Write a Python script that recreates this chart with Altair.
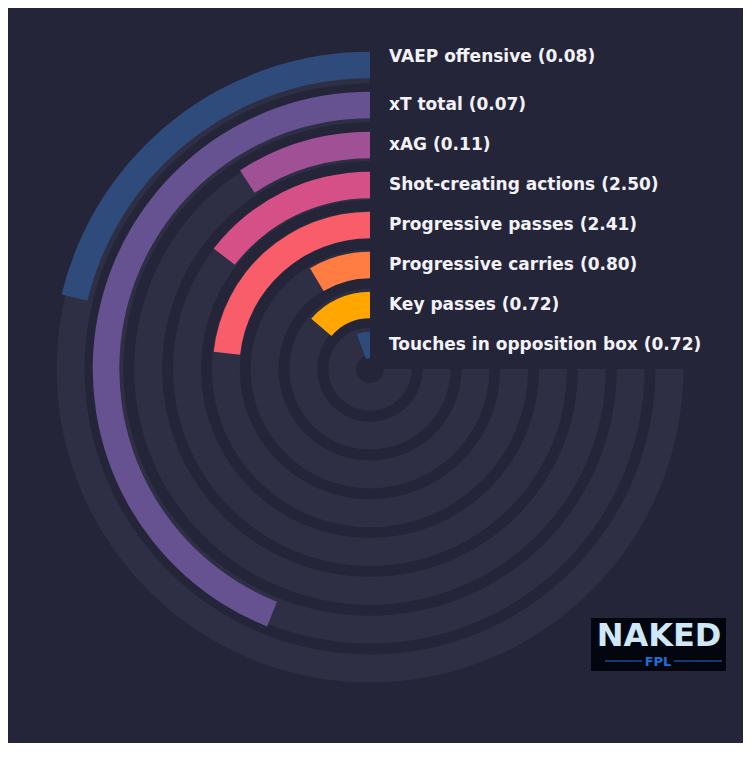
import altair as alt
import pandas as pd
import math

# ---- data ----
metrics = [
    "VAEP offensive",
    "xT total",
    "xAG",
    "Shot-creating actions",
    "Progressive passes",
    "Progressive carries",
    "Key passes",
    "Touches in opposition box",
]
values = [0.08, 0.07, 0.11, 2.50, 2.41, 0.80, 0.72, 0.72]
# share of the full 270-degree sweep (percentile-like), read from the arc ends
percentiles = [28.3, 58.6, 12.3, 19.4, 31.0, 11.4, 18.3, 7.7]
colors = ["#2f4b7c", "#665191", "#a05195", "#d45087",
          "#f95d6a", "#ff7c43", "#ffa600", "#2f4b7c"]

BG = "#25253a"
TRACK = "#2e2e44"
CX, CY = 362, 361

df = pd.DataFrame({
    "metric": metrics,
    "value": values,
    "pct": percentiles,
    "ring": list(range(len(metrics))),
})
df["label"] = [f"{m} ({v:.2f})" for m, v in zip(metrics, values)]

theta_scale = alt.Scale(domain=[0, 100], range=[2 * math.pi, math.pi / 2])
bar_r = alt.Scale(type="linear", domain=[0, 8], range=[-2.7, 317.3])
track_r = alt.Scale(type="linear", domain=[0, 8], range=[3, 313.4])

base = alt.Chart(df).transform_calculate(
    k="8 - datum.ring",
    zero="0",
    full="100",
)

tracks = base.transform_calculate(
    t_out="datum.k", t_in="datum.k - 0.72"
).mark_arc(color=TRACK).encode(
    x=alt.value(CX), y=alt.value(CY),
    theta=alt.Theta("zero:Q", scale=theta_scale, stack=None),
    theta2="full:Q",
    radius=alt.Radius("t_out:Q", scale=track_r),
    radius2="t_in:Q",
)

bars = base.transform_calculate(
    b_out="datum.k", b_in="datum.k - 0.665"
).mark_arc().encode(
    x=alt.value(CX), y=alt.value(CY),
    theta=alt.Theta("zero:Q", scale=theta_scale, stack=None),
    theta2="pct:Q",
    radius=alt.Radius("b_out:Q", scale=bar_r),
    radius2="b_in:Q",
    color=alt.Color("metric:N", scale=alt.Scale(domain=metrics, range=colors), legend=None),
)

text_props = dict(align="left", baseline="middle", font="DejaVu Sans",
                  fontWeight="bold", fontSize=17, color="#f2f2f7", dx=19)

labels = base.transform_filter("datum.ring > 0").transform_calculate(
    mid="datum.k - 0.3325"
).mark_text(dy=0, **text_props).encode(
    x=alt.value(CX), y=alt.value(CY),
    theta=alt.value(0),
    radius=alt.Radius("mid:Q", scale=bar_r),
    text="label:N",
)

label_top = base.transform_filter("datum.ring == 0").transform_calculate(
    mid="datum.k - 0.3325"
).mark_text(dy=-8, **text_props).encode(
    x=alt.value(CX), y=alt.value(CY),
    theta=alt.value(0),
    radius=alt.Radius("mid:Q", scale=bar_r),
    text="label:N",
)

# ---- logo (decoration) ----
logo_df = pd.DataFrame({"t": ["NAKED"]})
logo_box = alt.Chart(logo_df).mark_rect(color="#04060f").encode(
    x=alt.value(583), x2=alt.value(718), y=alt.value(610), y2=alt.value(663)
)
logo_word = alt.Chart(logo_df).mark_text(
    font="DejaVu Sans", fontWeight="bold", fontSize=32, color="#cfe7f7",
    align="center", baseline="alphabetic"
).encode(x=alt.value(651), y=alt.value(638), text="t:N")
logo_fpl = alt.Chart(pd.DataFrame({"t": ["FPL"]})).mark_text(
    font="DejaVu Sans", fontWeight="bold", fontSize=13, color="#1f6fd6",
    align="center", baseline="alphabetic"
).encode(x=alt.value(650), y=alt.value(658), text="t:N")
logo_line_l = alt.Chart(logo_df).mark_rule(color="#1f6fd6", strokeWidth=1).encode(
    x=alt.value(597), x2=alt.value(634), y=alt.value(653)
)
logo_line_r = alt.Chart(logo_df).mark_rule(color="#1f6fd6", strokeWidth=1).encode(
    x=alt.value(666), x2=alt.value(714), y=alt.value(653)
)

chart = alt.layer(
    tracks, bars, labels, label_top,
    logo_box, logo_word, logo_fpl, logo_line_l, logo_line_r
).resolve_scale(
    radius="independent", theta="shared"
).properties(
    width=735, height=735, background=BG, padding=0,
    autosize=alt.AutoSizeParams(type="none"),
).configure_view(stroke=None)

chart.save("out.html", embed_options={"renderer": "svg", "actions": False})
